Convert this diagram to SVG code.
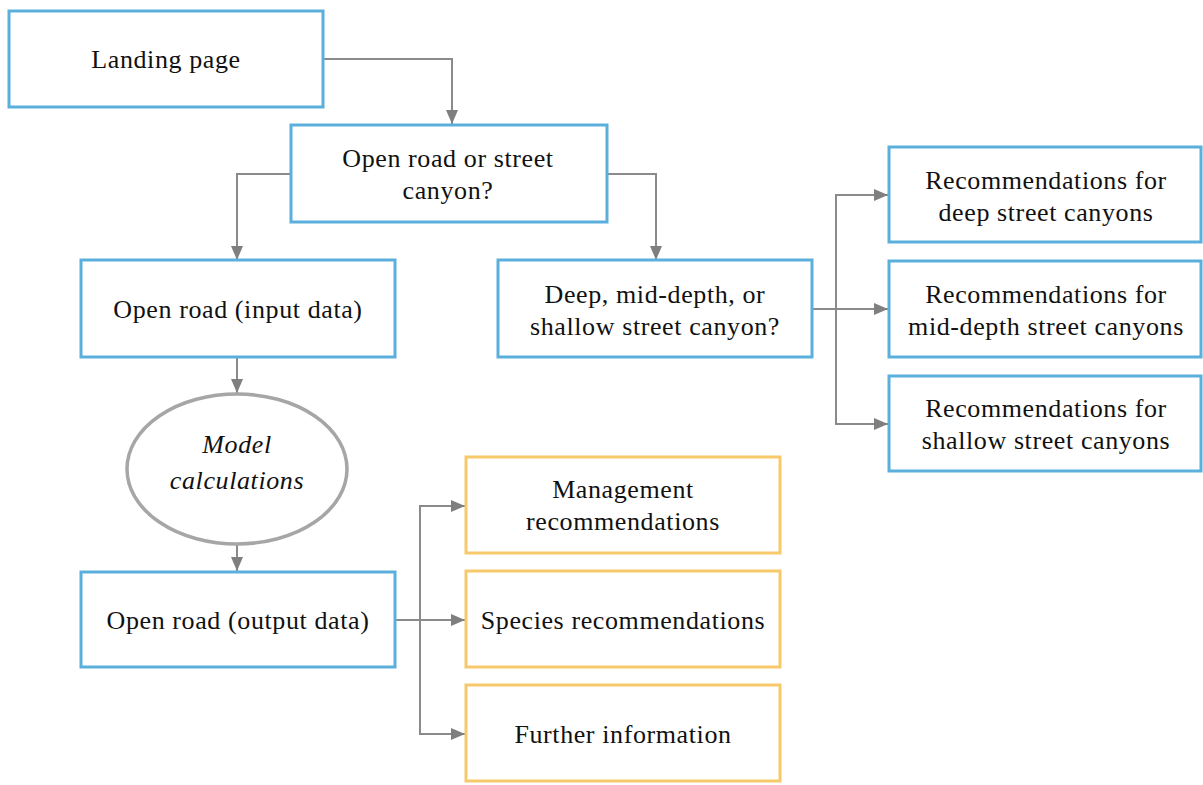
<svg xmlns="http://www.w3.org/2000/svg" width="1203" height="785" viewBox="0 0 1203 785">
<style>
.b{fill:#fff;stroke:#5aafdc;stroke-width:3}
.o{fill:#fff;stroke:#f7c96a;stroke-width:3}
.e{fill:#fff;stroke:#a6a6a6;stroke-width:3.5}
.t{font-family:"Liberation Serif","Times New Roman",serif;font-size:26px;letter-spacing:0.6px;fill:#111;text-anchor:middle}
.i{font-style:italic}
.c{fill:none;stroke:#8a8a8a;stroke-width:2}
</style>
<defs>
<marker id="a" viewBox="0 0 14 12" refX="14" refY="6" markerWidth="14" markerHeight="12" markerUnits="userSpaceOnUse" orient="auto">
<path d="M0,0 L14,6 L0,12 Z" fill="#7f7f7f"/>
</marker>
</defs>
<rect width="1203" height="785" fill="#fff"/>
<g id="connectors">
<path class="c" marker-end="url(#a)" d="M323,59 H452 V124"/>
<path class="c" marker-end="url(#a)" d="M290,174 H237 V260"/>
<path class="c" marker-end="url(#a)" d="M607,174 H656 V260"/>
<path class="c" marker-end="url(#a)" d="M237,357 V393"/>
<path class="c" marker-end="url(#a)" d="M237,545 V571"/>
<path class="c" d="M812,309 H836"/>
<path class="c" marker-end="url(#a)" d="M836,309 V195 H888"/>
<path class="c" marker-end="url(#a)" d="M836,309 H888"/>
<path class="c" marker-end="url(#a)" d="M836,309 V424 H888"/>
<path class="c" d="M395,620 H420"/>
<path class="c" marker-end="url(#a)" d="M420,620 V506 H465"/>
<path class="c" marker-end="url(#a)" d="M420,620 H465"/>
<path class="c" marker-end="url(#a)" d="M420,620 V734 H465"/>
</g>
<g id="landing"><rect class="b" x="9" y="11" width="314" height="96"/><text class="t" x="166" y="68">Landing page</text></g>
<g id="question"><rect class="b" x="291" y="125" width="316" height="97"/><text class="t" x="448" y="167">Open road or street</text><text class="t" x="448" y="199">canyon?</text></g>
<g id="input"><rect class="b" x="81" y="260" width="314" height="97"/><text class="t" x="238" y="318">Open road (input data)</text></g>
<g id="depth"><rect class="b" x="498" y="260" width="314" height="97"/><text class="t" x="655" y="303">Deep, mid-depth, or</text><text class="t" x="655" y="335">shallow street canyon?</text></g>
<g id="deep"><rect class="b" x="889" y="147" width="312" height="95"/><text class="t" x="1046" y="189">Recommendations for</text><text class="t" x="1046" y="221">deep street canyons</text></g>
<g id="mid"><rect class="b" x="889" y="261" width="312" height="96"/><text class="t" x="1046" y="303">Recommendations for</text><text class="t" x="1046" y="335">mid-depth street canyons</text></g>
<g id="shallow"><rect class="b" x="889" y="376" width="312" height="95"/><text class="t" x="1046" y="417">Recommendations for</text><text class="t" x="1046" y="449">shallow street canyons</text></g>
<g id="model"><ellipse class="e" cx="237" cy="469" rx="110" ry="75"/><text class="t i" x="237" y="453">Model</text><text class="t i" x="237" y="489">calculations</text></g>
<g id="output"><rect class="b" x="81" y="572" width="314" height="95"/><text class="t" x="238" y="629">Open road (output data)</text></g>
<g id="management"><rect class="o" x="466" y="457" width="314" height="96"/><text class="t" x="623" y="498">Management</text><text class="t" x="623" y="530">recommendations</text></g>
<g id="species"><rect class="o" x="466" y="571" width="314" height="96"/><text class="t" x="623" y="629">Species recommendations</text></g>
<g id="further"><rect class="o" x="466" y="685" width="314" height="96"/><text class="t" x="623" y="743">Further information</text></g>
</svg>
